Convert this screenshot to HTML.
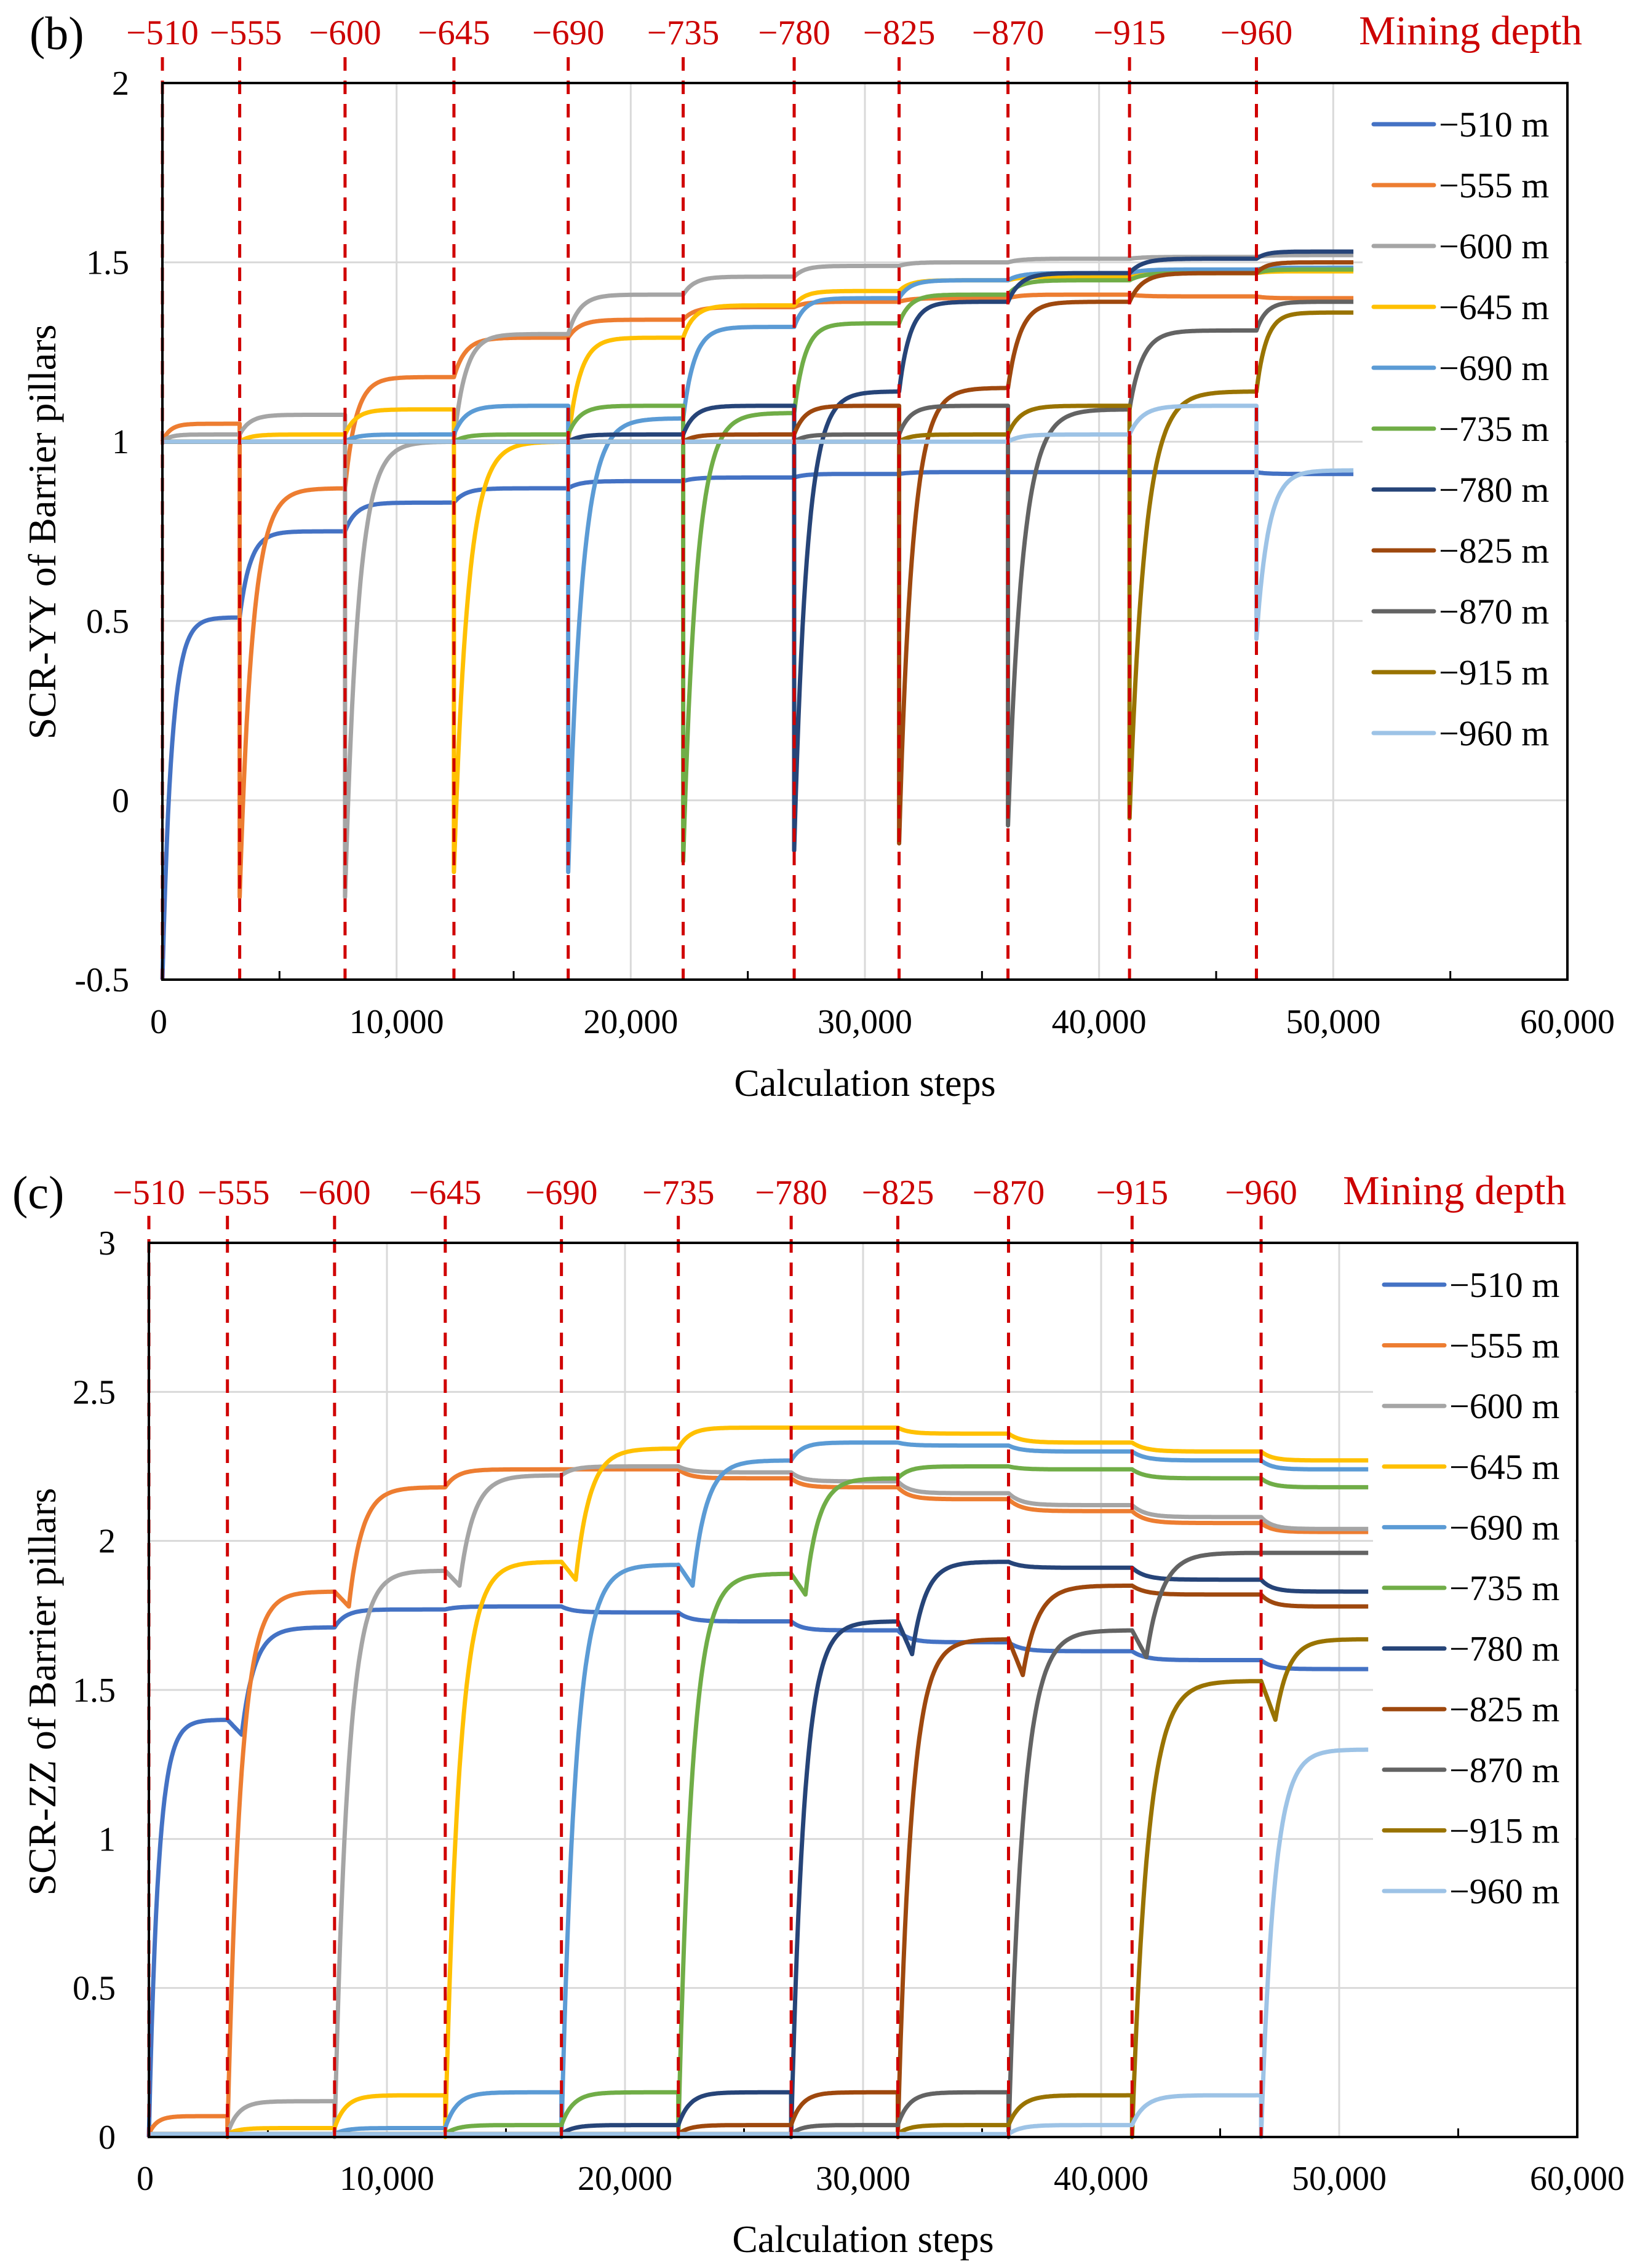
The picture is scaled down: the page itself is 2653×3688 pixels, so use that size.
<!DOCTYPE html>
<html><head><meta charset="utf-8">
<style>
html,body{margin:0;padding:0;background:#fff;}
svg{display:block;}
text{font-family:"Liberation Serif",serif;}
</style></head>
<body>
<svg id="fig" width="2653" height="3688" viewBox="0 0 2653 3688" xmlns="http://www.w3.org/2000/svg" font-family="Liberation Serif, serif"></svg>
<script>
// ---- shared data ----
const depthLabels = ["\u2212510","\u2212555","\u2212600","\u2212645","\u2212690","\u2212735","\u2212780","\u2212825","\u2212870","\u2212915","\u2212960"];
const stageStarts = [0,3300,7800,12450,17330,22240,26980,31460,36110,41300,46720];
const seriesNames = ["\u2212510 m","\u2212555 m","\u2212600 m","\u2212645 m","\u2212690 m","\u2212735 m","\u2212780 m","\u2212825 m","\u2212870 m","\u2212915 m","\u2212960 m"];
const seriesColors = ["#4472C4","#ED7D31","#A5A5A5","#FFC000","#5B9BD5","#70AD47","#264478","#9E480E","#636363","#997300","#9DC3E6"];
const xTickValues = [0,10000,20000,30000,40000,50000,60000];
const xTickLabels = ["0","10,000","20,000","30,000","40,000","50,000","60,000"];

// ---- panel (b) SCR-YY ----
const yyTicks = [-0.5,0,0.5,1,1.5,2];
const yyTickLabels = ["-0.5","0","0.5","1","1.5","2"];
const yyBase = 1.0;
const yyNear = 1.02;
const yyPre = [null,1.05,1.075,1.09,1.10,1.10,1.10,1.10,1.10,1.10,1.10];
const yyDip = [-0.5,-0.27,-0.27,-0.2,-0.2,-0.17,-0.14,-0.12,-0.07,-0.05,0.45];
const yyP0 = [0.51,0.75,0.83,0.87,0.89,0.90,0.91,0.915,0.915,0.915,0.91];
const yyP1 = [0.87,1.18,1.29,1.34,1.375,1.39,1.40,1.41,1.405,1.40];
const yyP2 = [1.0,1.30,1.41,1.46,1.49,1.50,1.51,1.515,1.52];
const yyP3 = [1.0,1.29,1.38,1.42,1.45,1.46,1.47,1.475];
const yyP4 = [1.065,1.32,1.40,1.45,1.47,1.48,1.485];
const yyP5 = [1.08,1.33,1.41,1.45,1.47,1.48];
const yyP6 = [1.14,1.39,1.47,1.51,1.53];
const yyP7 = [1.15,1.39,1.47,1.50];
const yyP8 = [1.09,1.31,1.39];
const yyP9 = [1.14,1.36];
const yyP10 = [0.92];

// ---- panel (c) SCR-ZZ ----
const zzTicks = [0,0.5,1,1.5,2,2.5,3];
const zzTickLabels = ["0","0.5","1","1.5","2","2.5","3"];
const zzBase = 0.01;
const zzNear = [null,null,0.01,0.03,0.03,0.04,0.04,0.04,0.04,0.04,0.04];
const zzPre = [null,0.07,0.12,0.14,0.15,0.15,0.15,0.15,0.15,0.14,0.14];
const zzNotch = [1.35,1.78,1.85,1.87,1.85,1.82,1.62,1.55,1.61,1.40,null];
const zzP0 = [1.40,1.71,1.77,1.78,1.76,1.73,1.70,1.66,1.63,1.60,1.57];
const zzP1 = [1.83,2.18,2.24,2.24,2.21,2.18,2.14,2.10,2.06,2.03];
const zzP2 = [1.90,2.22,2.25,2.23,2.20,2.16,2.12,2.08,2.04];
const zzP3 = [1.93,2.31,2.38,2.38,2.36,2.33,2.30,2.27];
const zzP4 = [1.92,2.27,2.33,2.32,2.30,2.27,2.24];
const zzP5 = [1.89,2.21,2.25,2.24,2.21,2.18];
const zzP6 = [1.73,1.93,1.91,1.87,1.83];
const zzP7 = [1.67,1.85,1.82,1.78];
const zzP8 = [1.70,1.96,1.96];
const zzP9 = [1.53,1.67];
const zzP10 = [1.30];

const yyPlat = [yyP0,yyP1,yyP2,yyP3,yyP4,yyP5,yyP6,yyP7,yyP8,yyP9,yyP10];
const zzPlat = [zzP0,zzP1,zzP2,zzP3,zzP4,zzP5,zzP6,zzP7,zzP8,zzP9,zzP10];

const NS = "http://www.w3.org/2000/svg";
const svg = document.getElementById('fig');
function mk(tag, attrs, parent, txt){
  const e = document.createElementNS(NS, tag);
  for (const k in attrs) e.setAttribute(k, attrs[k]);
  if (txt !== undefined) e.textContent = txt;
  (parent||svg).appendChild(e);
  return e;
}

function stageSpec(panel, i, k){
  if (panel === 'b'){
    if (k < i-1) return {from:yyBase, to:(k===i-2?yyNear:yyBase)};
    if (k === i-1) return {from:(i>=2?yyNear:yyBase), to:yyPre[i]};
    const p = yyPlat[i][k-i];
    if (k === i) return {from:yyDip[i], to:p, drop:true};
    return {from:yyPlat[i][k-i-1], to:p};
  } else {
    if (k < i-1) return {from:zzBase, to:(k===i-2 && zzNear[i]!==null ? zzNear[i] : zzBase)};
    if (k === i-1) return {from:(zzNear[i]!==null?zzNear[i]:zzBase), to:zzPre[i]};
    const p = zzPlat[i][k-i];
    if (k === i) return {from:0, to:p, drop:true};
    const prev = zzPlat[i][k-i-1];
    if (k === i+1 && zzNotch[i] !== null) return {from:prev, to:p, notch:zzNotch[i]};
    return {from:prev, to:p};
  }
}

function buildSeries(panel, i, endStep){
  const pts = [];
  const n = stageStarts.length;
  for (let k=0;k<n;k++){
    const S = stageStarts[k];
    const E = (k<n-1)? stageStarts[k+1] : endStep;
    const sp = stageSpec(panel,i,k);
    const dur = E - S;
    const tau = sp.drop ? dur*0.12 : dur*0.10;
    if (sp.drop && pts.length) pts.push([S, pts[pts.length-1][1]]);
    for (let t=S; t<=E; t+=60){
      const u = t - S;
      let v;
      if (sp.notch !== undefined){
        const tn = 600;
        if (u < tn) v = sp.from + (sp.notch - sp.from)*(u/tn);
        else v = sp.notch + (sp.to - sp.notch)*(1-Math.exp(-(u-tn)/(dur*0.12)));
      } else {
        v = sp.from + (sp.to - sp.from)*(1-Math.exp(-u/tau));
      }
      pts.push([t, v]);
    }
  }
  return pts;
}

function drawPanel(cfg){
  const g = mk('g', {}, svg);
  
  
  const X = v => cfg.L + (v - 0)/(60000)*(cfg.R - cfg.L);
  const Y = v => cfg.B - (v - cfg.ymin)/(cfg.ymax - cfg.ymin)*(cfg.B - cfg.T);
  cfg.yTicks.forEach((tv, j) => {
    if (tv === cfg.ymin || tv === cfg.ymax) return;
    const l = mk('line', {x1:cfg.L, x2:cfg.R, y1:Y(tv), y2:Y(tv), stroke:'#D9D9D9', 'stroke-width':3}, g);
    
    
  });
  xTickValues.forEach(tv => {
    if (tv === 0 || tv === 60000) return;
    const l = mk('line', {x1:X(tv), x2:X(tv), y1:cfg.T, y2:cfg.B, stroke:'#D9D9D9', 'stroke-width':3}, g);
    
    
  });
  for (let tv=5000; tv<60000; tv+=10000){
    const l = mk('line', {x1:X(tv), x2:X(tv), y1:cfg.B, y2:cfg.B-14, stroke:'#000', 'stroke-width':3}, g);
    
    
  }
  for (let i=0;i<seriesNames.length;i++){
    const pts = buildSeries(cfg.panel, i, cfg.endStep);
    const d = pts.map((p,j)=>(j?'L':'M')+X(p[0]).toFixed(1)+' '+Y(Math.max(cfg.ymin,p[1])).toFixed(1)).join(' ');
    const path = mk('path', {d:d, fill:'none', stroke:seriesColors[i], 'stroke-width':7, 'stroke-linejoin':'round'}, g);
    
    
  }
  const lb = mk('rect', {x:cfg.legX-18, y:cfg.T+4, width:cfg.R-cfg.legX+14, height:cfg.legY+10*cfg.legStep+40-cfg.T, fill:'#fff'}, g);
  
  
  for (let i=0;i<seriesNames.length;i++){
    const y = cfg.legY + i*cfg.legStep;
    const ll = mk('line', {x1:cfg.legX, x2:cfg.legX+98, y1:y, y2:y, stroke:seriesColors[i], 'stroke-width':7, 'stroke-linecap':'round'}, g);
    
    
    const lt = mk('text', {x:cfg.legX+106, y:y+20, 'font-size':58, fill:'#000'}, g, seriesNames[i]);
    
    
  }
  stageStarts.forEach((s, k) => {
    const l = mk('line', {x1:X(s), x2:X(s), y1:cfg.dashTop, y2:cfg.B, stroke:'#D00000', 'stroke-width':5, 'stroke-dasharray':'22 16'}, g);
    
    
    const t = mk('text', {x:X(s)+(k===1?10:0), y:cfg.depthY, 'font-size':57, fill:'#CC0000', 'text-anchor':'middle'}, g, depthLabels[k]);
    
    
  });
  const md = mk('text', {x:cfg.mdX, y:cfg.depthY, 'font-size':67, fill:'#CC0000', 'text-anchor':'end'}, g, 'Mining depth');
  
  
  const fr = mk('rect', {x:cfg.L, y:cfg.T, width:cfg.R-cfg.L, height:cfg.B-cfg.T, fill:'none', stroke:'#000', 'stroke-width':4}, g);
  
  
  cfg.yTicks.forEach((tv, j) => {
    const t = mk('text', {x:cfg.yLabX, y:Y(tv)+19, 'font-size':56, 'text-anchor':'end', fill:'#000'}, g, cfg.yTickLabels[j]);
    
    
  });
  xTickValues.forEach((tv, j) => {
    const t = mk('text', {x:X(tv)-(j===0?6:0), y:cfg.xLabY, 'font-size':56, 'text-anchor':'middle', fill:'#000'}, g, xTickLabels[j]);
    
    
  });
  const xt = mk('text', {x:(cfg.L+cfg.R)/2, y:cfg.xTitleY, 'font-size':62, 'text-anchor':'middle', fill:'#000'}, g, 'Calculation steps');
  
  
  const yt = mk('text', {x:0, y:0, 'font-size':64, 'text-anchor':'middle', fill:'#000', transform:`translate(${cfg.yTitleX},${cfg.yTitleY}) rotate(-90)`}, g, cfg.yTitle);
  
  
  const pl = mk('text', {x:cfg.plX, y:cfg.plY, 'font-size':76, fill:'#000'}, g, cfg.plabel);
  
  
}

drawPanel({panel:'b', name:'panel-b-chart', L:264, R:2548, T:135, B:1593, ymin:-0.5, ymax:2,
  yTicks:yyTicks, yTickLabels:yyTickLabels, endStep:50900,
  legX:2233, legY:202, legStep:99,
  dashTop:93, depthY:72, mdX:2572, yLabX:210, xLabY:1680, xTitleY:1782,
  yTitle:'SCR-YY of Barrier pillars', yTitleX:90, yTitleY:865, plabel:'(b)', plX:48, plY:80});

drawPanel({panel:'c', name:'panel-c-chart', L:242, R:2564, T:2021, B:3475, ymin:0, ymax:3,
  yTicks:zzTicks, yTickLabels:zzTickLabels, endStep:51240,
  legX:2250, legY:2089, legStep:98.6,
  dashTop:1977, depthY:1958, mdX:2546, yLabX:188, xLabY:3561, xTitleY:3662,
  yTitle:'SCR-ZZ of Barrier pillars', yTitleX:90, yTitleY:2751, plabel:'(c)', plX:20, plY:1965});
</script>
</body></html>
